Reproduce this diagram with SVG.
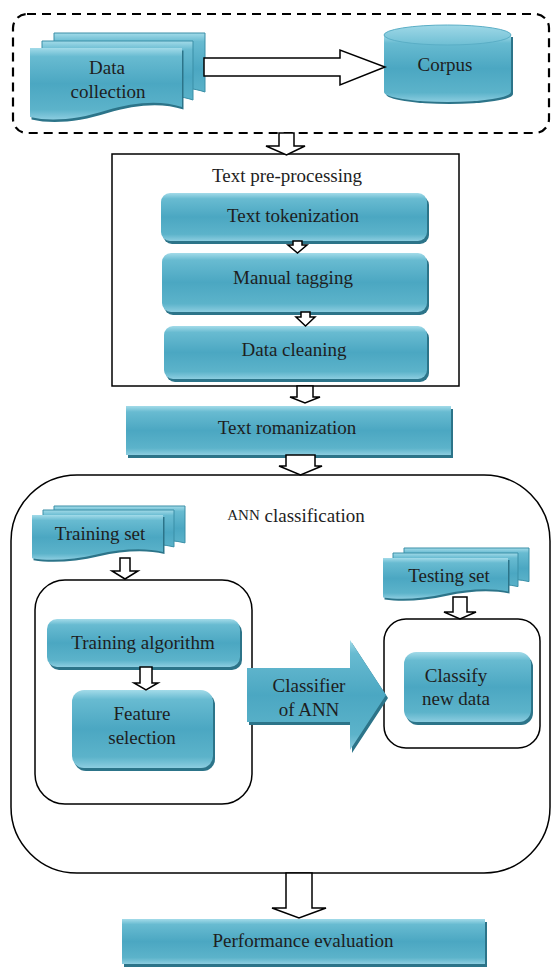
<svg xmlns="http://www.w3.org/2000/svg" width="552" height="967" viewBox="0 0 552 967">
<defs>
  <linearGradient id="teal" x1="0" y1="0" x2="0" y2="1">
    <stop offset="0" stop-color="#a3dbe9"/>
    <stop offset="0.12" stop-color="#68bbd1"/>
    <stop offset="0.5" stop-color="#4ba7c2"/>
    <stop offset="0.86" stop-color="#5cb3ca"/>
    <stop offset="1" stop-color="#8ccde0"/>
  </linearGradient>
  <linearGradient id="tealTop" x1="0" y1="0" x2="0" y2="1">
    <stop offset="0" stop-color="#9fd8e7"/>
    <stop offset="1" stop-color="#6fbfd4"/>
  </linearGradient>
</defs>
<style>
  .t{font-family:"Liberation Serif","Times New Roman",serif;font-size:19px;fill:#1e1e1e;text-anchor:middle;dominant-baseline:central}
  .box{fill:url(#teal)}
  .sh{fill:#2c7489}
  .back{fill:url(#teal);stroke:#3a8fa7;stroke-width:1}
  .frame{fill:none;stroke:#000;stroke-width:1.5}
  .dash{fill:none;stroke:#000;stroke-width:2.2;stroke-dasharray:9 6}
  .ha{fill:#fff;stroke:#000;stroke-width:1.5;stroke-linejoin:miter}
</style>

<g id="frames">
  <rect class="dash" x="13" y="14" width="536" height="119" rx="14"/>
  <rect class="frame" x="112" y="154" width="347" height="232"/>
  <rect class="frame" x="11" y="475" width="539" height="398" rx="66"/>
  <rect class="frame" x="35" y="580" width="217" height="224" rx="30"/>
  <rect class="frame" x="384" y="619" width="156" height="129" rx="22"/>
</g>

<g id="data-collection">
  <path class="back" d="M54,33 H205 V92 C183.9,84.8 156.7,87 129.5,95.6 C102.3,104.3 75.1,107.2 54,102.1 Z"/>
  <path class="back" d="M42,41 H193 V100 C171.9,92.8 144.7,95 117.5,103.6 C90.3,112.3 63.1,115.2 42,110.1 Z"/>
  <path class="sh" d="M31.5,50.5 H183.5 V109.5 C162.2,102.3 134.9,104.5 107.5,113.1 C80.1,121.8 52.8,124.7 31.5,119.6 Z"/>
  <path class="box" d="M30,48 H182 V107 C160.7,99.8 133.4,102 106,110.6 C78.6,119.3 51.3,122.2 30,117.1 Z"/>
  <text class="t" x="107" y="67">Data</text>
  <text class="t" x="108" y="91">collection</text>
</g>

<g id="corpus">
  <path class="sh" d="M386,37 V94 A63.5,10 0 0 0 513,94 V37 Z"/>
  <path class="box" d="M384,35 V92 A63.5,10 0 0 0 511,92 V35 Z"/>
  <ellipse cx="447.5" cy="35" rx="63.5" ry="10" fill="url(#tealTop)" stroke="#5aaec6" stroke-width="1"/>
  <text class="t" x="445" y="64">Corpus</text>
</g>

<g id="preprocessing-title">
  <text class="t" x="287" y="175">Text pre-processing</text>
</g>

<g id="text-tokenization">
  <rect class="sh" x="163" y="196" width="266" height="48" rx="9"/>
  <rect class="box" x="161" y="193" width="266" height="48" rx="9"/>
  <text class="t" x="293" y="215">Text tokenization</text>
</g>

<g id="manual-tagging">
  <rect class="sh" x="164" y="256" width="265" height="59" rx="9"/>
  <rect class="box" x="162" y="253" width="265" height="59" rx="9"/>
  <text class="t" x="293" y="277">Manual tagging</text>
</g>

<g id="data-cleaning">
  <rect class="sh" x="166" y="329" width="263" height="53" rx="9"/>
  <rect class="box" x="164" y="326" width="263" height="53" rx="9"/>
  <text class="t" x="294" y="349">Data cleaning</text>
</g>

<g id="text-romanization">
  <rect class="sh" x="128" y="409" width="325" height="49"/>
  <rect class="box" x="126" y="406" width="325" height="49"/>
  <text class="t" x="287" y="427">Text romanization</text>
</g>

<g id="ann-title">
  <text class="t" x="296" y="515"><tspan font-size="15">ANN</tspan> classification</text>
</g>

<g id="training-set">
  <path class="back" d="M54,506 H185 V542.9 C166.7,538.4 143.1,539.8 119.5,545.2 C95.9,550.6 72.3,552.4 54,549.2 Z"/>
  <path class="back" d="M43,510 H174 V546.9 C155.7,542.4 132.1,543.8 108.5,549.2 C84.9,554.6 61.3,556.4 43,553.2 Z"/>
  <path class="sh" d="M33.5,517 H164.5 V553.9 C146.2,549.4 122.6,550.8 99,556.2 C75.4,561.6 51.8,563.4 33.5,560.2 Z"/>
  <path class="box" d="M32,515 H163 V551.9 C144.7,547.4 121.1,548.8 97.5,554.2 C73.9,559.6 50.3,561.4 32,558.2 Z"/>
  <text class="t" x="100" y="533">Training set</text>
</g>

<g id="testing-set">
  <path class="back" d="M404,548 H529 V581.6 C511.5,577.5 489,578.8 466.5,583.7 C444,588.6 421.5,590.2 404,587.4 Z"/>
  <path class="back" d="M393,553 H518 V586.6 C500.5,582.5 478,583.8 455.5,588.7 C433,593.6 410.5,595.2 393,592.4 Z"/>
  <path class="sh" d="M384.5,560 H509.5 V593.6 C492,589.5 469.5,590.8 447,595.7 C424.5,600.6 402,602.2 384.5,599.4 Z"/>
  <path class="box" d="M383,558 H508 V591.6 C490.5,587.5 468,588.8 445.5,593.7 C423,598.6 400.5,600.2 383,597.4 Z"/>
  <text class="t" x="449" y="575">Testing set</text>
</g>

<g id="training-algorithm">
  <rect class="sh" x="49" y="622" width="193" height="48" rx="10"/>
  <rect class="box" x="47" y="619" width="193" height="48" rx="10"/>
  <text class="t" x="143" y="642">Training algorithm</text>
</g>

<g id="feature-selection">
  <rect class="sh" x="74" y="693" width="141" height="78" rx="12"/>
  <rect class="box" x="72" y="690" width="141" height="78" rx="12"/>
  <text class="t" x="142" y="713">Feature</text>
  <text class="t" x="142" y="737">selection</text>
</g>

<g id="classifier-of-ann">
  <polygon class="sh" points="249,671 352,671 352,643 388,698 352,753 352,725 249,725"/>
  <polygon class="box" points="247,668 350,668 350,640 386,695 350,750 350,722 247,722"/>
  <text class="t" x="309" y="685">Classifier</text>
  <text class="t" x="309" y="709">of ANN</text>
</g>

<g id="classify-new-data">
  <rect class="sh" x="406" y="655" width="127" height="70" rx="12"/>
  <rect class="box" x="404" y="652" width="127" height="70" rx="12"/>
  <text class="t" x="456" y="675">Classify</text>
  <text class="t" x="456" y="698">new data</text>
</g>

<g id="performance-evaluation">
  <rect class="sh" x="124" y="922" width="363" height="45"/>
  <rect class="box" x="122" y="919" width="363" height="45"/>
  <text class="t" x="303" y="940">Performance evaluation</text>
</g>

<g id="connectors">
  <polygon class="ha" points="204,58 340,58 340,50 385,67 340,85 340,76 204,76"/>
  <polygon class="ha" points="279,133 294,133 294,146 305,146 286.5,155 266,146 279,146"/>
  <polygon class="ha" points="293,241 302,241 302,245 307,245 297.5,253 288,245 293,245"/>
  <polygon class="ha" points="301,312 310,312 310,317 315,317 305.5,326 296,317 301,317"/>
  <polygon class="ha" points="297,386 313,386 313,397 320,397 305,403 290,397 297,397"/>
  <polygon class="ha" points="286,455 315,455 315,466 322,466 300.5,475 279,466 286,466"/>
  <polygon class="ha" points="120,558 130,558 130,571 138,571 125,579 112,571 120,571"/>
  <polygon class="ha" points="140,667 152,667 152,683 158,683 146,690 134,683 140,683"/>
  <polygon class="ha" points="453,597 467,597 467,612 476,612 460,619 444,612 453,612"/>
  <polygon class="ha" points="286,873 312,873 312,908 326,908 299,918 272,908 286,908"/>
</g>
</svg>
